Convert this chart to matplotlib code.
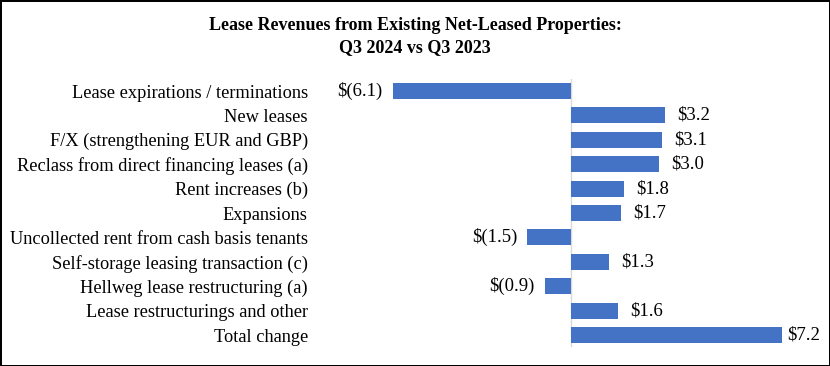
import matplotlib.pyplot as plt

categories = [
    'Lease expirations / terminations',
    'New leases',
    'F/X (strengthening EUR and GBP)',
    'Reclass from direct financing leases (a)',
    'Rent increases (b)',
    'Expansions',
    'Uncollected rent from cash basis tenants',
    'Self-storage leasing transaction (c)',
    'Hellweg lease restructuring (a)',
    'Lease restructurings and other',
    'Total change',
]
values = [-6.1, 3.2, 3.1, 3.0, 1.8, 1.7, -1.5, 1.3, -0.9, 1.6, 7.2]

W, H = 830, 366
plt.rcParams['font.family'] = ['Liberation Serif', 'DejaVu Serif']

fig = plt.figure(figsize=(W / 100, H / 100), dpi=100)
fig.patch.set_edgecolor('black')
fig.patch.set_linewidth(2)

# axes placed in pixel coordinates
left, right, top, bottom = 330, 810, 78.8, 347.2
ax = fig.add_axes([left / W, 1 - bottom / H, (right - left) / W, (bottom - top) / H])

px_per_unit = 29.25
zero_x = 571
ax.set_xlim(-(zero_x - left) / px_per_unit, (right - zero_x) / px_per_unit)

y = list(range(len(categories)))
ax.barh(y, values, height=0.66, color='#4472C4', zorder=2)
ax.set_ylim(len(categories) - 0.5, -0.5)

ax.axvline(0, color='#d9d9d9', lw=1, zorder=1)

for yi, v in zip(y, values):
    if v >= 0:
        txt = f'${v:.1f}'
        # the total label is squeezed against the right edge
        off = 4 if yi == len(values) - 1 else 9
        ax.annotate(txt, (v, yi), xytext=(off, 0), textcoords='offset points',
                    ha='left', va='center', fontsize=13.5)
    else:
        txt = f'$({abs(v):.1f})'
        ax.annotate(txt, (v, yi), xytext=(-7, 0), textcoords='offset points',
                    ha='right', va='center', fontsize=13.5)

ax.set_yticks(y)
ax.set_yticklabels(categories, fontsize=13.2)
ax.tick_params(axis='y', length=0, pad=16)
ax.set_xticks([])
for s in ax.spines.values():
    s.set_visible(False)

fig.text(0.5, 1 - 26 / H, 'Lease Revenues from Existing Net-Leased Properties:',
         ha='center', va='center', fontsize=13, fontweight='bold')
fig.text(0.5, 1 - 48 / H, 'Q3 2024 vs Q3 2023',
         ha='center', va='center', fontsize=13, fontweight='bold')

fig.savefig('out.png', dpi=100, edgecolor=fig.get_edgecolor())
